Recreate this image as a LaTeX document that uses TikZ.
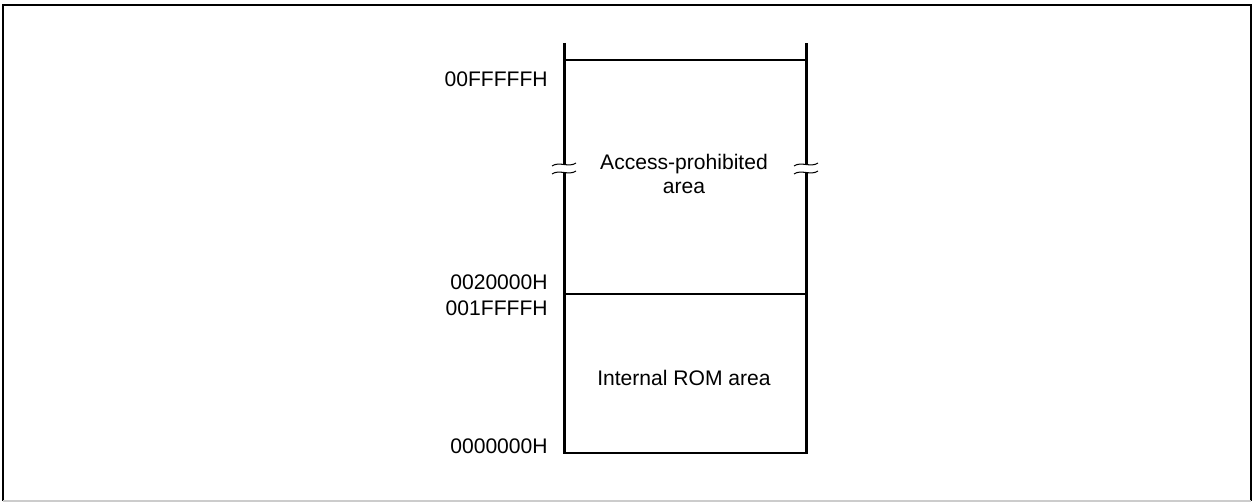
\documentclass[tikz,border=0pt]{standalone}
\usepackage{fontspec}
\setmainfont{Liberation Sans}
\usetikzlibrary{positioning}

\begin{document}
\begin{tikzpicture}[x=0.02cm, y=-0.02cm,
  addr/.style={font=\fontsize{12}{13.7}\selectfont, anchor=base east, inner sep=0pt},
  area/.style={font=\fontsize{12}{13.7}\selectfont, align=center, inner sep=0pt},
  wall/.style={line width=1.7pt},
  split/.style={line width=0.6pt},
  brk/.style={line width=0.6pt}]

\useasboundingbox (0, 0) rectangle (1254, 503);

% --- Frame ---
\draw[line width=1.2pt] (3, 501) -- (3, 5) -- (1251, 5) -- (1251, 501);
\draw[gray!40, line width=0.6pt] (3, 501) -- (1251, 501);

% --- Box corners ---
\coordinate (tl) at (564, 43);
\coordinate (tr) at (806, 43);
\coordinate (bl) at (564, 453);
\coordinate (br) at (806, 453);
\coordinate (bkl1) at (564, 164.5);
\coordinate (bkl2) at (564, 172.5);
\coordinate (bkr1) at (806, 164.5);
\coordinate (bkr2) at (806, 172.5);

% --- Walls, broken near the top ---
\draw[wall] (tl) -- (bkl1);
\draw[wall] (bkl2) -- (bl) -- (br) -- (bkr2);
\draw[wall] (bkr1) -- (tr);

% --- Break marks ---
\foreach \bx in {564, 806} {
  \foreach \by in {164.5, 172.5} {
    \draw[brk] (\bx-12, \by+1.5) .. controls (\bx-5, \by-3.5) and (\bx+5, \by+3.5) .. (\bx+12, \by-1.5);
  }
}

% --- Area boundaries ---
\draw[split] (564, 60) -- (806, 60);
\draw[split] (564, 294) -- (806, 294);

% --- Addresses ---
\node[addr] (ffffff) at (548, 87) {00FFFFFH};
\node[addr] (p20000) at (548, 290) {0020000H};
\node[addr] (p1ffff) at (548, 316) {001FFFFH};
\node[addr] (p00000) at (548, 453) {0000000H};

% --- Area names ---
\node[area] (prohib) at (684, 174) {Access-prohibited\\area};
\node[area] (rom) at (684, 378) {Internal ROM area};

\end{tikzpicture}
\end{document}
